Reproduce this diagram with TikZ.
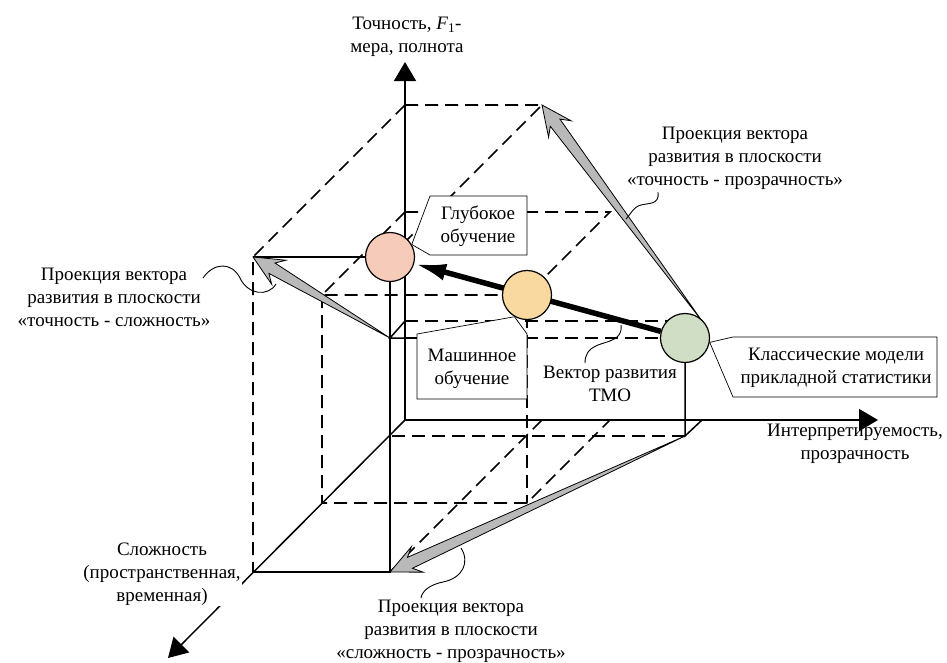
\documentclass[tikz,border=0pt]{standalone}
\usepackage{fontspec}
\setmainfont{Liberation Serif}
\usetikzlibrary{calc,arrows.meta}
\pgfdeclarelayer{back}
\pgfsetlayers{back,main}

\definecolor{deepfill}{RGB}{246,203,186}
\definecolor{mlfill}{RGB}{250,217,160}
\definecolor{statfill}{RGB}{207,222,196}
\definecolor{projgray}{RGB}{185,185,185}

\tikzset{
  axis/.style={line width=1.5pt, -{Triangle[length=19pt,width=22pt]}},
  edge/.style={line width=1.5pt},
  hidden/.style={line width=1.6pt, dash pattern=on 13pt off 7pt},
  projstyle/.style={fill=projgray, draw=black, line width=0.8pt, line join=miter},
  vec/.style={line width=5.5pt, -{Latex[length=32pt,width=17pt]}},
  ball/.style={circle, draw, line width=1.2pt, minimum size=49pt, inner sep=0pt},
  callout/.style={draw, fill=white, line width=0.7pt},
  lbl/.style={align=center, inner sep=0pt},
  wave/.style={line width=0.9pt},
}

% tapered grey arrow from #1 (thin tail) to #2 (head)
\newcommand\projarrow[2]{%
  \path ($(#2)!22pt!(#1)$) coordinate (pa-n)
        ($(#2)!30pt!(#1)$) coordinate (pa-b);
  \filldraw[projstyle] (#1)
    -- ($(pa-n)!6pt!90:(#2)$)
    -- ($(pa-b)!14pt!90:(#2)$)
    -- (#2)
    -- ($(pa-b)!14pt!-90:(#2)$)
    -- ($(pa-n)!6pt!-90:(#2)$)
    -- cycle;}

\begin{document}
\begin{tikzpicture}[x=1pt,y=-1pt,font=\fontsize{19}{23}\selectfont]
\useasboundingbox (0,0) rectangle (947,662);

% axes
\coordinate (O) at (405,420);
\coordinate (Yend) at (405,62);
\coordinate (Xend) at (878,420);
\coordinate (Zend) at (168,658);

% deep learning point and its projections
\coordinate (Dc) at (390,257);
\coordinate (Dyz) at (253,257);
\coordinate (Dxy) at (542,105);
\coordinate (Dxz) at (390,572);
\coordinate (DY) at (405,105);
\coordinate (DZ) at (253,572);
\coordinate (DX) at (542,420);

% machine learning point and its projections
\coordinate (Mc) at (527,295);
\coordinate (Myz) at (322,295);
\coordinate (Mxy) at (610,212);
\coordinate (Mxz) at (527,503);
\coordinate (MY) at (405,212);
\coordinate (MZ) at (322,503);
\coordinate (MX) at (610,420);

% classical statistics point and its projections
\coordinate (Gc) at (685,338);
\coordinate (Gyz) at (390,338);
\coordinate (Gxy) at (702,321);
\coordinate (Gxz) at (685,436);
\coordinate (GY) at (405,321);
\coordinate (GZ) at (389,436);
\coordinate (GX) at (702,420);
\coordinate (Gm) at (405,338);

% the three models
\node[ball, fill=deepfill] (D) at (Dc) {};
\node[ball, fill=mlfill] (M) at (Mc) {};
\node[ball, fill=statfill] (G) at (Gc) {};

\begin{pgfonlayer}{back}
  % hidden edges
  \draw[hidden] (DY) -- (Dxy) -- (Dc);
  \draw[hidden] (DY) -- (Dyz) -- (DZ);
  \draw[hidden] (DX) -- (Dxz);
  \draw[hidden] (MY) -- (Mxy) -- (Mc);
  \draw[hidden] (MY) -- (Myz) -- (Mc);
  \draw[hidden] (Myz) -- (MZ) -- (Mxz) -- (MX);
  \draw[hidden] (Mc) -- (Mxz);
  \draw[hidden] (GY) -- (Gxy);
  \draw[hidden] (Gm) -- (Gc);
  \draw[hidden] (Gxz) -- (GZ);
  % visible edges
  \draw[edge] (Dc) -- (Dyz);
  \draw[edge] (Dc) -- (Dxz) -- (DZ);
  \draw[edge] (Gc) -- (Gxz) -- (GX);
  \draw[edge] (GY) -- (Gyz) -- (Gm);
  % axes
  \draw[axis] (O) -- (Yend);
  \draw[axis] (O) -- (Xend);
  \draw[axis] (O) -- (Zend);
  % projections of the development vector
  \projarrow{Gyz}{Dyz}
  \projarrow{Gxy}{Dxy}
  \projarrow{Gxz}{Dxz}
  % development vector
  \draw[vec] (G) -- (D);
\end{pgfonlayer}

% callouts
\filldraw[callout] (430,196) -- (527,196) -- (527,255) -- (430,255) -- (D.30) -- cycle;
\node[lbl] (tDeep) at (478,226) {Глубокое\\обучение};
\filldraw[callout] (417,334) -- (M.-120) -- (527,334) -- (527,399) -- (417,399) -- cycle;
\node[lbl] (tML) at (472,369) {Машинное\\обучение};
\filldraw[callout] (733,337) -- (937,337) -- (937,397) -- (733,397) -- (G.-10) -- cycle;
\node[lbl] (tStat) at (836,368) {Классические модели\\прикладной статистики};

% axis titles
\node[lbl] (yLab) at (407,37) {Точность, \textit{F}\textsubscript{1}-\\мера, полнота};
\node[lbl] (xLab) at (855,444) {Интерпретируемость,\\прозрачность};
\node[lbl, fill=white, inner sep=1pt] (zLab) at (162,574) {Сложность\\(пространственная,\\временная)};

% projection labels with wavy leaders
\node[lbl] (pXY) at (735,158) {Проекция вектора\\развития в плоскости\\«точность - прозрачность»};
\node[lbl] (pYZ) at (114,297) {Проекция вектора\\развития в плоскости\\«точность - сложность»};
\node[lbl] (pXZ) at (451,631) {Проекция вектора\\развития в плоскости\\«сложность - прозрачность»};
\node[lbl] (tVec) at (610,384) {Вектор развития\\ТМО};

\coordinate (wL0) at (203,278);
\coordinate (wL1) at (276,284);
\draw[wave] (wL0) .. controls (214,262) and (232,262) .. (240,278)
            .. controls (248,295) and (268,297) .. (wL1);
\coordinate (wT0) at (658,192);
\coordinate (wT1) at (626,219);
\draw[wave] (wT0) .. controls (660,205) and (648,203) .. (641,205)
            .. controls (633,207) and (631,214) .. (wT1);
\coordinate (wB0) at (461,548);
\coordinate (wB1) at (421,598);
\draw[wave] (wB0) .. controls (470,562) and (463,578) .. (443,582)
            .. controls (428,585) and (422,592) .. (wB1);
\coordinate (wV0) at (621,325);
\coordinate (wV1) at (585,363);
\draw[wave] (wV0) .. controls (623,340) and (608,341) .. (598,345)
            .. controls (588,349) and (585,355) .. (wV1);
\end{tikzpicture}
\end{document}
